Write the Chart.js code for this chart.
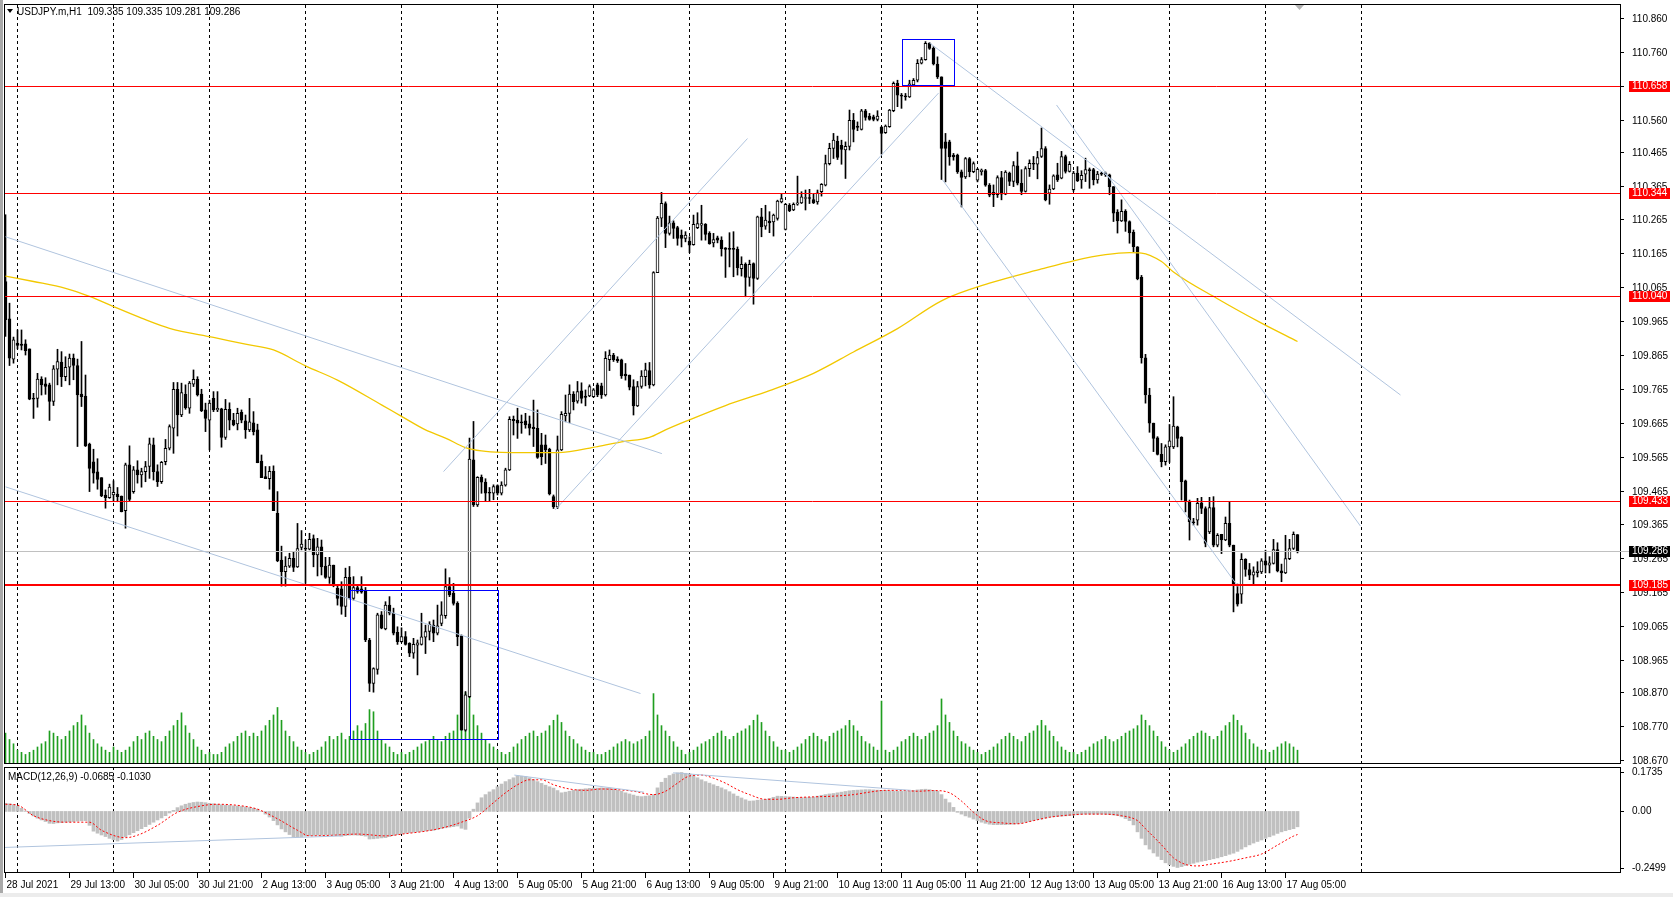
<!DOCTYPE html>
<html>
<head>
<meta charset="utf-8">
<script src="https://cdn.jsdelivr.net/npm/chart.js"></script>
<style>
  body { margin: 0; background: #fff; width: 1673px; height: 897px; overflow: hidden; position: relative; }
  #main { position: absolute; left: 0; top: 0; }
  #macd { position: absolute; left: 0; top: 766px; }
  #foot { position: absolute; left: 0; top: 893px; width: 1673px; height: 4px; background: #ececec; }
</style>
</head>
<body>
<canvas id="main" width="1673" height="766"></canvas>
<canvas id="macd" width="1673" height="131"></canvas>
<div id="foot"></div>
<script>
// USDJPY.m H1, bar 0 = 28 Jul 2021 21:00, one candle per hour: [open, high, low, close]
const candles = [
  [110.082,110.279,109.920,109.969],[109.972,110.018,109.834,109.856],[109.853,109.918,109.841,109.910],
  [109.900,109.939,109.883,109.893],[109.897,109.939,109.880,109.893],[109.898,109.910,109.865,109.878],
  [109.883,109.883,109.733,109.735],[109.737,109.752,109.678,109.735],[109.737,109.811,109.711,109.794],
  [109.794,109.801,109.747,109.777],[109.780,109.798,109.749,109.772],[109.777,109.782,109.672,109.728],
  [109.728,109.834,109.716,109.824],[109.823,109.882,109.777,109.846],[109.844,109.875,109.772,109.801],
  [109.801,109.860,109.789,109.829],[109.829,109.868,109.777,109.856],[109.856,109.868,109.792,109.834],
  [109.834,109.853,109.595,109.747],[109.750,109.905,109.713,109.742],[109.744,109.806,109.595,109.597],
  [109.602,109.605,109.462,109.530],[109.550,109.587,109.487,109.516],[109.520,109.559,109.469,109.498],
  [109.503,109.503,109.447,109.449],[109.452,109.467,109.413,109.444],[109.444,109.484,109.442,109.475],
  [109.452,109.494,109.432,109.460],[109.455,109.474,109.432,109.447],[109.449,109.449,109.402,109.403],
  [109.406,109.546,109.354,109.541],[109.541,109.597,109.435,109.439],[109.462,109.536,109.457,109.526],
  [109.526,109.553,109.487,109.511],[109.511,109.531,109.475,109.521],[109.521,109.551,109.491,109.536],
  [109.536,109.620,109.501,109.603],[109.600,109.620,109.496,109.521],[109.521,109.541,109.477,109.491],
  [109.491,109.551,109.486,109.548],[109.550,109.616,109.541,109.590],[109.590,109.659,109.585,109.654],
  [109.649,109.784,109.575,109.764],[109.764,109.784,109.626,109.688],[109.688,109.782,109.683,109.754],
  [109.749,109.777,109.705,109.710],[109.708,109.787,109.693,109.782],[109.779,109.821,109.772,109.793],
  [109.793,109.801,109.744,109.747],[109.750,109.764,109.698,109.701],[109.703,109.723,109.639,109.678],
  [109.673,109.732,109.585,109.723],[109.737,109.757,109.698,109.703],[109.703,109.757,109.698,109.708],
  [109.706,109.708,109.593,109.622],[109.622,109.734,109.616,109.705],[109.705,109.724,109.644,109.673],
  [109.673,109.693,109.656,109.659],[109.662,109.708,109.644,109.693],[109.696,109.703,109.665,109.673],
  [109.671,109.688,109.619,109.644],[109.644,109.737,109.639,109.668],[109.665,109.698,109.629,109.639],
  [109.644,109.661,109.547,109.547],[109.552,109.570,109.503,109.503],[109.506,109.536,109.500,109.500],
  [109.500,109.536,109.469,109.522],[109.522,109.538,109.406,109.406],[109.398,109.462,109.255,109.258],
  [109.260,109.301,109.183,109.226],[109.226,109.270,109.183,109.242],[109.242,109.280,109.238,109.265],
  [109.265,109.285,109.226,109.238],[109.240,109.368,109.238,109.294],[109.297,109.347,109.290,109.307],
  [109.295,109.319,109.191,109.292],[109.292,109.339,109.290,109.321],[109.323,109.334,109.240,109.275],
  [109.275,109.324,109.213,109.299],[109.299,109.319,109.216,109.240],[109.242,109.268,109.206,109.209],
  [109.209,109.268,109.191,109.245],[109.245,109.245,109.181,109.186],[109.177,109.187,109.127,109.147],
  [109.175,109.196,109.100,109.123],[109.123,109.236,109.093,109.209],[109.209,109.241,109.145,109.147],
  [109.147,109.211,109.142,109.179],[109.179,109.187,109.162,109.167],[109.175,109.211,109.162,109.165],
  [109.169,109.179,109.019,109.024],[109.024,109.029,108.872,108.896],[108.896,108.942,108.870,108.940],
  [108.937,109.103,108.923,109.098],[109.098,109.108,109.057,109.059],[109.057,109.137,109.054,109.127],
  [109.127,109.152,109.098,109.103],[109.103,109.118,109.039,109.044],[109.047,109.063,109.011,109.019],
  [109.019,109.060,109.017,109.034],[109.034,109.049,109.009,109.011],[109.014,109.016,108.975,108.985],
  [108.985,109.029,108.970,109.011],[109.009,109.024,108.921,109.016],[109.011,109.103,109.009,109.033],
  [109.032,109.068,108.984,109.049],[109.049,109.078,109.024,109.070],[109.068,109.083,109.019,109.044],
  [109.044,109.127,109.039,109.066],[109.073,109.137,109.066,109.098],[109.096,109.234,109.088,109.182],
  [109.182,109.208,109.152,109.157],[109.162,109.191,109.127,109.132],[109.132,109.137,109.007,109.034],
  [109.036,109.039,108.758,108.758],[108.758,108.872,108.755,108.862],[108.857,109.620,108.854,109.558],
  [109.556,109.669,109.418,109.423],[109.423,109.506,109.418,109.504],[109.504,109.511,109.457,109.490],
  [109.490,109.500,109.433,109.457],[109.460,109.474,109.433,109.457],[109.457,109.482,109.438,109.477],
  [109.480,109.482,109.452,109.457],[109.457,109.491,109.452,109.481],[109.481,109.531,109.478,109.526],
  [109.526,109.683,109.524,109.675],[109.675,109.685,109.629,109.671],[109.673,109.708,109.619,109.664],
  [109.668,109.688,109.634,109.665],[109.671,109.693,109.649,109.659],[109.662,109.685,109.629,109.649],
  [109.652,109.732,109.595,109.648],[109.649,109.703,109.560,109.563],[109.600,109.634,109.541,109.565],
  [109.600,109.629,109.545,109.585],[109.587,109.590,109.452,109.455],[109.447,109.452,109.412,109.417],
  [109.417,109.626,109.412,109.585],[109.585,109.698,109.583,109.690],[109.685,109.747,109.668,109.693],
  [109.693,109.777,109.665,109.750],[109.750,109.757,109.703,109.727],[109.729,109.787,109.723,109.757],
  [109.759,109.783,109.723,109.737],[109.744,109.762,109.715,109.740],[109.744,109.777,109.742,109.772],
  [109.742,109.766,109.740,109.762],[109.777,109.782,109.742,109.747],[109.774,109.782,109.737,109.747],
  [109.747,109.875,109.744,109.855],[109.851,109.880,109.819,109.865],[109.865,109.870,109.846,109.851],
  [109.853,109.860,109.843,109.848],[109.851,109.853,109.796,109.803],[109.809,109.840,109.791,109.803],
  [109.806,109.806,109.762,109.770],[109.772,109.792,109.688,109.715],[109.715,109.787,109.713,109.772],
  [109.772,109.819,109.767,109.803],[109.801,109.841,109.774,109.821],[109.819,109.843,109.767,109.777],
  [109.777,110.111,109.774,110.108],[110.108,110.274,110.108,110.269],[110.269,110.345,110.244,110.313],
  [110.312,110.317,110.182,110.224],[110.224,110.275,110.219,110.255],[110.255,110.261,110.209,110.239],
  [110.241,110.245,110.189,110.209],[110.219,110.234,110.184,110.209],[110.209,110.229,110.199,110.219],
  [110.201,110.214,110.167,110.189],[110.191,110.278,110.189,110.251],[110.241,110.285,110.238,110.253],
  [110.248,110.307,110.204,110.253],[110.251,110.253,110.204,110.221],[110.224,110.229,110.192,110.194],
  [110.196,110.224,110.184,110.206],[110.211,110.216,110.196,110.204],[110.204,110.214,110.157,110.179],
  [110.181,110.182,110.094,110.177],[110.179,110.226,110.125,110.177],[110.179,110.229,110.096,110.177],
  [110.177,110.184,110.101,110.123],[110.120,110.155,110.098,110.133],[110.133,110.137,110.037,110.094],
  [110.094,110.145,110.068,110.133],[110.135,110.137,110.015,110.091],[110.091,110.275,110.088,110.273],
  [110.273,110.298,110.214,110.243],[110.245,110.307,110.236,110.263],[110.260,110.288,110.226,110.255],
  [110.258,110.281,110.216,110.278],[110.268,110.322,110.263,110.319],[110.317,110.342,110.314,110.327],
  [110.236,110.312,110.234,110.310],[110.307,110.312,110.288,110.291],[110.293,110.314,110.291,110.310],
  [110.310,110.393,110.307,110.314],[110.314,110.347,110.312,110.332],[110.327,110.352,110.293,110.330],
  [110.330,110.354,110.312,110.327],[110.324,110.340,110.312,110.314],[110.317,110.352,110.310,110.344],
  [110.347,110.371,110.334,110.369],[110.366,110.455,110.364,110.430],[110.430,110.490,110.426,110.475],
  [110.475,110.519,110.445,110.499],[110.496,110.511,110.442,110.448],[110.484,110.499,110.428,110.472],
  [110.470,110.494,110.386,110.481],[110.481,110.588,110.470,110.558],[110.558,110.578,110.494,110.531],
  [110.541,110.553,110.527,110.537],[110.531,110.590,110.529,110.586],[110.586,110.590,110.558,110.566],
  [110.570,110.578,110.558,110.560],[110.568,110.573,110.556,110.560],[110.560,110.586,110.556,110.570],
  [110.537,110.540,110.458,110.519],[110.521,110.544,110.519,110.541],[110.539,110.590,110.537,110.588],
  [110.586,110.671,110.583,110.667],[110.667,110.676,110.598,110.632],[110.632,110.637,110.593,110.629],
  [110.629,110.637,110.617,110.627],[110.627,110.676,110.625,110.665],[110.662,110.681,110.659,110.676],
  [110.676,110.737,110.671,110.726],[110.726,110.743,110.724,110.737],[110.737,110.790,110.735,110.785],
  [110.785,110.787,110.767,110.770],[110.770,110.775,110.721,110.724],[110.724,110.745,110.681,110.686],
  [110.686,110.686,110.383,110.475],[110.494,110.519,110.376,110.475],[110.494,110.499,110.425,110.450],
  [110.455,110.460,110.440,110.450],[110.455,110.458,110.401,110.406],[110.406,110.411,110.302,110.389],
  [110.391,110.448,110.386,110.445],[110.445,110.448,110.391,110.406],[110.406,110.435,110.403,110.430],
  [110.381,110.416,110.376,110.413],[110.406,110.414,110.396,110.411],[110.409,110.413,110.363,110.366],
  [110.366,110.371,110.332,110.337],[110.345,110.367,110.303,110.338],[110.338,110.394,110.330,110.389],
  [110.389,110.407,110.323,110.340],[110.340,110.409,110.338,110.405],[110.402,110.405,110.365,110.377],
  [110.377,110.436,110.362,110.424],[110.423,110.464,110.367,110.372],[110.372,110.412,110.338,110.348],
  [110.348,110.421,110.346,110.415],[110.415,110.441,110.392,110.431],[110.431,110.451,110.412,110.428],
  [110.428,110.466,110.385,110.448],[110.451,110.535,110.448,110.474],[110.474,110.480,110.320,110.323],
  [110.343,110.367,110.310,110.355],[110.355,110.397,110.353,110.394],[110.397,110.431,110.377,110.382],
  [110.387,110.466,110.385,110.451],[110.451,110.455,110.402,110.407],[110.407,110.436,110.405,110.428],
  [110.353,110.407,110.348,110.402],[110.402,110.421,110.377,110.379],[110.382,110.409,110.357,110.395],
  [110.399,110.446,110.377,110.412],[110.412,110.417,110.357,110.409],[110.412,110.416,110.367,110.382],
  [110.382,110.407,110.372,110.399],[110.402,110.405,110.395,110.399],[110.402,110.405,110.392,110.397],
  [110.397,110.399,110.338,110.362],[110.362,110.362,110.259,110.284],[110.287,110.294,110.225,110.261],
  [110.261,110.323,110.259,110.289],[110.289,110.294,110.230,110.259],[110.259,110.261,110.195,110.225],
  [110.227,110.234,110.170,110.185],[110.184,110.185,110.087,110.090],[110.094,110.100,109.841,109.857],
  [109.857,109.867,109.723,109.747],[109.747,109.767,109.637,109.664],[109.664,109.664,109.580,109.619],
  [109.621,109.624,109.570,109.572],[109.572,109.604,109.535,109.550],[109.550,109.600,109.540,109.594],
  [109.594,109.660,109.548,109.612],[109.594,109.742,109.589,109.655],[109.653,109.655,109.594,109.619],
  [109.622,109.624,109.437,109.491],[109.494,109.496,109.402,109.435],[109.432,109.437,109.319,109.373],
  [109.373,109.383,109.363,109.370],[109.378,109.442,109.363,109.427],[109.429,109.445,109.397,109.412],
  [109.412,109.417,109.299,109.309],[109.343,109.445,109.338,109.415],[109.415,109.447,109.299,109.304],
  [109.304,109.338,109.299,109.333],[109.336,109.336,109.279,109.319],[109.319,109.387,109.317,109.368],
  [109.368,109.432,109.299,109.304],[109.304,109.304,109.107,109.186],[109.161,109.189,109.124,109.130],
  [109.159,109.279,109.132,109.262],[109.262,109.264,109.212,109.232],[109.232,109.250,109.202,109.215],
  [109.215,109.240,109.189,109.225],[109.223,109.255,109.210,109.228],[109.225,109.264,109.220,109.258],
  [109.258,109.289,109.222,109.245],[109.245,109.270,109.222,109.252],[109.250,109.321,109.248,109.291],
  [109.291,109.311,109.225,109.228],[109.228,109.248,109.196,109.222],[109.222,109.333,109.220,109.264],
  [109.264,109.321,109.261,109.294],[109.294,109.343,109.291,109.336],[109.335,109.335,109.281,109.286]
];

// tick volume, hundreds of ticks
const volume = [
  28,22,18,
  12,10,8,10,12,15,18,20,30,28,25,22,25,30,35,38,45,35,28,22,18,15,12,10,
  15,12,10,12,15,20,25,22,28,30,25,22,20,25,30,35,40,47,35,28,22,15,12,8,
  10,8,8,10,15,18,20,25,28,30,25,28,25,30,35,40,45,52,40,30,25,20,15,12,
  10,8,10,12,15,20,25,22,25,28,22,25,30,35,30,37,50,48,30,22,18,15,10,8,
  10,8,10,12,15,18,20,22,25,22,20,25,28,30,45,54,66,75,45,35,28,22,18,15,
  12,10,8,10,15,18,22,25,28,30,25,28,30,35,40,45,38,30,25,22,18,15,12,10,
  10,8,8,10,12,15,18,20,22,20,18,20,22,25,30,65,45,35,30,25,20,15,12,8,
  10,12,15,18,20,22,25,28,30,25,22,25,28,30,32,35,40,45,38,30,25,20,15,12,
  12,10,12,15,18,22,25,28,25,22,20,25,28,30,32,35,40,35,30,25,20,18,15,12,
  58,12,10,12,15,20,22,25,28,25,22,25,28,30,35,60,45,38,30,25,20,18,15,12,
  10,8,10,12,15,18,22,25,28,25,22,20,25,28,30,35,40,35,30,25,20,15,12,10,
  10,8,10,12,15,18,20,22,25,22,20,22,25,28,30,32,35,45,40,35,30,25,20,15,
  12,10,12,15,18,22,25,28,30,28,25,22,25,30,35,38,45,40,35,28,22,18,15,12,
  12,10,12,15,18,20,18,15,12
];

// moving average (yellow), read at bar indices
const maIdx = [0,7,15,21,27,34,41,52,60,67,75,83,94,99,105,110,115,119,124,138,
  148,154,161,165,170,180,191,202,212,223,234,246,259,267,275,281,284,289,292,303,314,323];
const maVal = [110.098,110.082,110.062,110.038,110.008,109.974,109.944,109.917,109.897,109.880,
  109.833,109.791,109.718,109.684,109.644,109.620,109.592,109.582,109.578,109.577,
  109.595,109.609,109.622,109.644,109.669,109.716,109.760,109.811,109.874,109.943,
  110.025,110.077,110.119,110.143,110.161,110.167,110.166,110.141,110.110,110.031,109.959,109.905];

// MACD(12,26,9) main line, one value per bar
const macdMain = [
  .036,.034,.030,.024,.014,.002,-.010,-.020,-.030,-.038,
  -.045,-.053,-.054,-.051,-.050,-.048,-.047,-.045,-.043,-.042,
  -.041,-.062,-.088,-.097,-.105,-.112,-.120,-.126,-.132,-.125,
  -.113,-.104,-.095,-.086,-.077,-.068,-.058,-.048,-.038,-.029,
  -.019,-.007,.005,.017,.025,.032,.037,.040,.042,.041,
  .039,.036,.034,.032,.030,.028,.027,.025,.024,.022,
  .020,.017,.014,.010,.000,-.012,-.025,-.041,-.060,-.078,
  -.091,-.103,-.113,-.114,-.113,-.110,-.108,-.107,-.106,-.106,
  -.105,-.106,-.107,-.108,-.110,-.108,-.106,-.105,-.106,-.108,
  -.110,-.123,-.122,-.120,-.118,-.117,-.112,-.107,-.103,-.099,
  -.097,-.095,-.093,-.091,-.089,-.087,-.085,-.084,-.080,-.076,
  -.073,-.070,-.068,-.065,-.075,-.080,-.030,.010,.038,.061,
  .075,.087,.097,.110,.122,.133,.142,.150,.158,.157,
  .155,.150,.142,.133,.125,.117,.110,.104,.093,.083,
  .086,.090,.094,.097,.099,.101,.103,.104,.104,.105,
  .104,.104,.100,.095,.090,.083,.078,.073,.068,.066,
  .068,.070,.075,.105,.130,.148,.160,.167,.172,.1735,
  .170,.167,.160,.150,.141,.133,.126,.119,.112,.105,
  .097,.088,.078,.068,.060,.052,.046,.047,.050,.052,
  .054,.058,.063,.068,.067,.066,.065,.064,.062,.061,
  .062,.063,.064,.068,.072,.075,.078,.080,.083,.086,
  .089,.092,.094,.095,.096,.097,.097,.096,.095,.094,
  .094,.092,.091,.090,.090,.091,.092,.094,.096,.098,
  .099,.097,.094,.090,.075,.055,.039,.018,-.004,-.012,
  -.020,-.026,-.034,-.041,-.048,-.053,-.057,-.059,-.059,-.059,
  -.059,-.058,-.057,-.055,-.052,-.048,-.045,-.041,-.037,-.034,
  -.030,-.026,-.024,-.023,-.021,-.020,-.019,-.017,-.015,-.013,
  -.012,-.012,-.012,-.012,-.012,-.013,-.014,-.016,-.019,-.024,
  -.032,-.041,-.060,-.091,-.120,-.149,-.168,-.185,-.200,-.215,
  -.229,-.238,-.245,-.2499,-.246,-.241,-.236,-.231,-.226,-.222,
  -.219,-.215,-.211,-.207,-.202,-.197,-.191,-.186,-.178,-.168,
  -.158,-.149,-.141,-.134,-.127,-.120,-.113,-.106,-.098,-.091,
  -.086,-.081,-.077,-.0685
];

// MACD signal line, read at bar indices
const sigIdx = [0,3,7,11,15,21,24,30,33,38,43,49,53,59,63,68,73,76,82,88,
  95,100,105,110,114,118,122,125,128,131,134,137,141,145,149,153,157,162,165,168,
  171,174,177,180,183,186,190,193,197,202,207,212,216,220,224,228,232,236,239,242,
  245,249,253,257,261,266,270,274,279,283,285,289,292,295,298,301,306,310,314,318,322,323];
const sigVal = [.032,.028,-.019,-.041,-.048,-.048,-.084,-.117,-.106,-.062,
  -.004,.025,.032,.025,.010,-.033,-.084,-.109,-.106,-.101,
  -.109,-.099,-.088,-.070,-.048,-.019,.039,.083,.119,.141,
  .141,.119,.100,.094,.100,.097,.090,.075,.090,.126,
  .158,.162,.148,.126,.097,.075,.054,.054,.061,.065,
  .068,.075,.086,.094,.094,.090,.093,.083,.046,-.004,
  -.041,-.051,-.055,-.041,-.026,-.016,-.012,-.012,-.019,-.041,
  -.077,-.149,-.207,-.236,-.243,-.236,-.222,-.207,-.190,-.150,-.110,-.103];

// horizontal levels and drawn objects (bar index, price)
const levels = [110.658, 110.344, 110.040, 109.433, 109.185];
const bidPrice = 109.286;
const trendLines = [
  [0, 110.214, 164.1, 109.574],
  [0, 109.476, 158.75, 108.866],
  [109.5, 109.521, 185.5, 110.504],
  [137.4, 109.408, 233.25, 110.638],
  [231, 110.786, 348.75, 109.747],
  [234.25, 110.382, 308.25, 109.180],
  [262.75, 110.603, 338.75, 109.360]
];
const boxes = [
  [224.2, 110.797, 237.1, 110.661],
  [86.1, 109.172, 123.1, 108.731]
];
const macdLines = [
  [-1, -0.161, 84.4, -0.109],
  [127.2, 0.162, 159.6, 0.086],
  [166.9, 0.172, 226.4, 0.094]
];

// axes
const priceTicks = [110.860,110.760,110.660,110.560,110.465,110.365,110.265,110.165,110.065,109.965,
  109.865,109.765,109.665,109.565,109.465,109.365,109.265,109.165,109.065,108.965,108.870,108.770,108.670];
const macdTicks = [0.1735, 0, -0.2499];
const macdTickText = ['0.1735', '0.00', '-0.2499'];
const gridIdx = [3,27,51,75,99,123,147,171,195,219,243,267,291,315,339];
const xLabelIdx = [0,16,32,48,64,80,96,112,128,144,160,176,192,208,224,240,256,272,288,304,320];
const xLabelText = ['28 Jul 2021','29 Jul 13:00','30 Jul 05:00','30 Jul 21:00','2 Aug 13:00','3 Aug 05:00',
  '3 Aug 21:00','4 Aug 13:00','5 Aug 05:00','5 Aug 21:00','6 Aug 13:00','9 Aug 05:00','9 Aug 21:00',
  '10 Aug 13:00','11 Aug 05:00','11 Aug 21:00','12 Aug 13:00','13 Aug 05:00','13 Aug 21:00',
  '16 Aug 13:00','17 Aug 05:00'];

const X_MIN = -0.375, X_MAX = 403.625;
const FONT = '10px "Liberation Sans", Arial, sans-serif';

function seg(ctx, x1, y1, x2, y2) {
  ctx.beginPath(); ctx.moveTo(x1, y1); ctx.lineTo(x2, y2); ctx.stroke();
}
function dashedGrid(chart) {
  const { ctx, chartArea: a, scales: { x } } = chart;
  ctx.save();
  ctx.strokeStyle = '#000'; ctx.lineWidth = 1; ctx.setLineDash([3, 3]);
  gridIdx.forEach(i => {
    const gx = Math.floor(x.getPixelForValue(i)) + 0.5;
    seg(ctx, gx, a.top, gx, a.bottom);
  });
  ctx.restore();
}
function leftBand(chart) {
  const ctx = chart.ctx;
  ctx.save(); ctx.fillStyle = '#a9a9a9'; ctx.fillRect(0, 0, 3, chart.height); ctx.restore();
}

const mainDeco = {
  id: 'mainDeco',
  beforeDatasetsDraw(chart) { dashedGrid(chart); },
  afterDatasetsDraw(chart) {
    const { ctx, chartArea: a, scales: { x, y } } = chart;
    const X = v => x.getPixelForValue(v), Y = v => y.getPixelForValue(v);
    ctx.save();
    ctx.beginPath(); ctx.rect(a.left, a.top, a.right - a.left, a.bottom - a.top); ctx.clip();
    ctx.lineWidth = 1;
    ctx.strokeStyle = '#c0c0c0';
    const by = Math.round(Y(bidPrice)) + 0.5;
    seg(ctx, a.left, by, a.right, by);
    ctx.strokeStyle = '#b0c4de';
    trendLines.forEach(t => seg(ctx, X(t[0]), Y(t[1]), X(t[2]), Y(t[3])));
    ctx.strokeStyle = '#ff0000';
    levels.forEach(p => {
      const w = p === 109.185 ? 2 : 1;
      ctx.lineWidth = w;
      const ly = w === 2 ? Math.round(Y(p)) : Math.round(Y(p)) + 0.5;
      seg(ctx, a.left, ly, a.right + 10, ly);
    });
    ctx.lineWidth = 1;
    ctx.strokeStyle = '#0000ff';
    boxes.forEach(b => {
      const x1 = Math.round(X(b[0])) + 0.5, y1 = Math.round(Y(b[1])) + 0.5;
      const x2 = Math.round(X(b[2])) + 0.5, y2 = Math.round(Y(b[3])) + 0.5;
      ctx.strokeRect(x1, y1, x2 - x1, y2 - y1);
    });
    ctx.restore();

    ctx.save();
    ctx.strokeStyle = '#000'; ctx.lineWidth = 1;
    ctx.strokeRect(a.left + 0.5, a.top - 0.5, a.right - a.left, a.bottom - a.top + 1);
    // right price scale
    ctx.font = FONT; ctx.textBaseline = 'middle'; ctx.fillStyle = '#000';
    priceTicks.forEach(p => {
      const ty = Math.round(Y(p)) + 0.5;
      seg(ctx, a.right, ty, a.right + 4, ty);
      ctx.fillText(p.toFixed(3), a.right + 12, ty + 0.5);
    });
    const tag = (p, bg) => {
      const ty = Math.round(Y(p));
      ctx.fillStyle = bg; ctx.fillRect(a.right + 9, ty - 5, 41, 11);
      ctx.fillStyle = '#fff'; ctx.fillText(p.toFixed(3), a.right + 12, ty + 0.5);
    };
    ctx.strokeStyle = '#c0c0c0';
    seg(ctx, a.right, Math.round(Y(bidPrice)) + 0.5, a.right + 9, Math.round(Y(bidPrice)) + 0.5);
    tag(bidPrice, '#000');
    levels.forEach(p => tag(p, '#ff0000'));
    // header
    ctx.fillStyle = '#000';
    ctx.beginPath(); ctx.moveTo(7, 9); ctx.lineTo(13, 9); ctx.lineTo(10, 13); ctx.closePath(); ctx.fill();
    ctx.fillText('USDJPY.m,H1  109.335 109.335 109.281 109.286', 17, 12);
    // chart shift marker
    ctx.fillStyle = '#b4b4b4';
    ctx.beginPath(); ctx.moveTo(1295, 5); ctx.lineTo(1304, 5); ctx.lineTo(1299.5, 10); ctx.closePath(); ctx.fill();
    ctx.restore();
    leftBand(chart);
  }
};

const macdDeco = {
  id: 'macdDeco',
  beforeDatasetsDraw(chart) { dashedGrid(chart); },
  afterDatasetsDraw(chart) {
    const { ctx, chartArea: a, scales: { x, y } } = chart;
    const X = v => x.getPixelForValue(v), Y = v => y.getPixelForValue(v);
    ctx.save();
    ctx.beginPath(); ctx.rect(a.left, a.top, a.right - a.left, a.bottom - a.top); ctx.clip();
    ctx.strokeStyle = '#b0c4de'; ctx.lineWidth = 1;
    macdLines.forEach(t => seg(ctx, X(t[0]), Y(t[1]), X(t[2]), Y(t[3])));
    ctx.restore();

    ctx.save();
    ctx.strokeStyle = '#000'; ctx.lineWidth = 1;
    ctx.strokeRect(a.left + 0.5, a.top + 0.5, a.right - a.left, a.bottom - a.top - 1);
    ctx.font = FONT; ctx.textBaseline = 'middle'; ctx.fillStyle = '#000';
    macdTicks.forEach((v, k) => {
      const ty = Math.round(Y(v)) + 0.5;
      seg(ctx, a.right, ty, a.right + 4, ty);
      ctx.fillText(macdTickText[k], a.right + 12, ty);
    });
    ctx.fillText('MACD(12,26,9) -0.0685 -0.1030', 8, a.top + 10);
    // time axis
    xLabelIdx.forEach((i, k) => {
      const lx = Math.floor(X(i)) + 0.5;
      seg(ctx, lx, a.bottom, lx, a.bottom + 5);
      ctx.fillText(xLabelText[k], lx + 1, a.bottom + 12);
    });
    ctx.restore();
    leftBand(chart);
  }
};

const common = {
  responsive: false,
  animation: false,
  events: [],
  plugins: { legend: { display: false }, tooltip: { enabled: false } },
  datasets: { bar: { grouped: false } }
};

new Chart(document.getElementById('main'), {
  type: 'bar',
  data: {
    datasets: [
      {
        type: 'bar', yAxisID: 'yv', order: 5,
        data: volume.map((v, i) => ({ x: i, y: v })),
        backgroundColor: '#1f9e1f', barThickness: 1
      },
      {
        type: 'bar', yAxisID: 'y', order: 3,
        data: candles.map((c, i) => ({ x: i, y: [c[2], c[1]] })),
        backgroundColor: '#000', barThickness: 1
      },
      {
        type: 'bar', yAxisID: 'y', order: 2,
        data: candles.map((c, i) => ({ x: i, y: [Math.min(c[0], c[3]), Math.max(c[0], c[3])] })),
        backgroundColor: candles.map(c => c[3] > c[0] ? '#fff' : '#000'),
        borderColor: '#000', borderWidth: 1, borderSkipped: false,
        barThickness: 3, minBarLength: 1
      },
      {
        type: 'line', yAxisID: 'y', order: 1,
        data: maIdx.map((v, k) => ({ x: v, y: maVal[k] })),
        borderColor: '#f2c800', borderWidth: 1.3, pointRadius: 0,
        cubicInterpolationMode: 'monotone'
      }
    ]
  },
  options: Object.assign({}, common, {
    layout: { padding: { left: 4, right: 53, top: 5, bottom: 3 } },
    scales: {
      x: { type: 'linear', min: X_MIN, max: X_MAX, offset: false, display: false },
      y: { type: 'linear', min: 108.661, max: 110.898, display: false },
      yv: { type: 'linear', min: 0, max: 710, display: false }
    }
  }),
  plugins: [mainDeco]
});

new Chart(document.getElementById('macd'), {
  type: 'bar',
  data: {
    datasets: [
      {
        type: 'bar', yAxisID: 'y', order: 2,
        data: macdMain.map((v, i) => ({ x: i, y: v })),
        backgroundColor: '#c0c0c0', barThickness: 3
      },
      {
        type: 'line', yAxisID: 'y', order: 1,
        data: sigIdx.map((v, k) => ({ x: v, y: sigVal[k] })),
        borderColor: '#ff0000', borderWidth: 1, borderDash: [2, 2], pointRadius: 0,
        cubicInterpolationMode: 'monotone'
      }
    ]
  },
  options: Object.assign({}, common, {
    layout: { padding: { left: 4, right: 53, top: 1, bottom: 24 } },
    scales: {
      x: { type: 'linear', min: X_MIN, max: X_MAX, offset: false, display: false },
      y: { type: 'linear', min: -0.2744, max: 0.198, display: false }
    }
  }),
  plugins: [macdDeco]
});
</script>
</body>
</html>
